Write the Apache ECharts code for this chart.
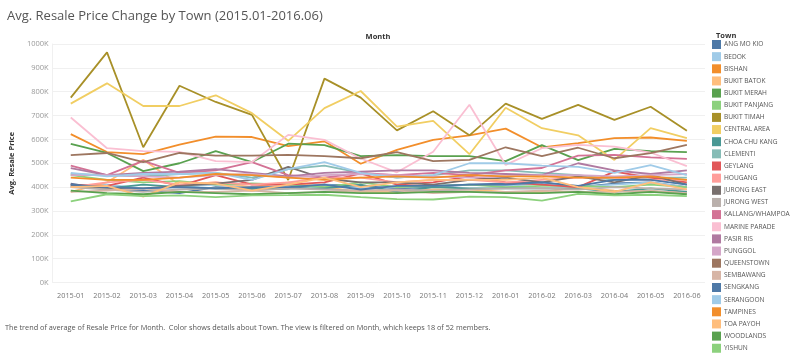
<!DOCTYPE html>
<html><head><meta charset="utf-8">
<script src="https://cdn.jsdelivr.net/npm/echarts@6/dist/echarts.min.js"></script>
<style>html,body{margin:0;padding:0;background:#fff}#c{width:800px;height:355px}</style>
</head><body><div id="c"></div>
<script>
const months = ['2015-01','2015-02','2015-03','2015-04','2015-05','2015-06','2015-07','2015-08','2015-09','2015-10','2015-11','2015-12','2016-01','2016-02','2016-03','2016-04','2016-05','2016-06'];
const yTicks = [0,100000,200000,300000,400000,500000,600000,700000,800000,900000,1000000];
const towns = ['ANG MO KIO','BEDOK','BISHAN','BUKIT BATOK','BUKIT MERAH','BUKIT PANJANG','BUKIT TIMAH','CENTRAL AREA','CHOA CHU KANG','CLEMENTI','GEYLANG','HOUGANG','JURONG EAST','JURONG WEST','KALLANG/WHAMPOA','MARINE PARADE','PASIR RIS','PUNGGOL','QUEENSTOWN','SEMBAWANG','SENGKANG','SERANGOON','TAMPINES','TOA PAYOH','WOODLANDS','YISHUN'];
const colors = ['#4e79a7','#a0cbe8','#f28e2b','#ffbe7d','#59a14f','#8cd17d','#a89028','#f1ce63','#499894','#86bcb6','#e15759','#ff9d9a','#79706e','#bab0ac','#d37295','#fabfd2','#b07aa1','#d4a6c8','#9d7660','#d7b5a6','#4e79a7','#a0cbe8','#f28e2b','#ffbe7d','#59a14f','#8cd17d'];

// values in K
const angMoKio      = [415,390,385,375,400,395,395,410,405,395,400,410,415,420,400,415,420,400];
const bedok         = [400,410,395,400,410,400,405,410,395,400,405,410,405,415,400,410,420,400];
const bishan        = [622,547,538,578,612,610,572,592,498,556,598,617,645,567,584,605,608,594];
const bukitBatok    = [380,420,515,410,420,400,420,400,380,380,390,390,380,380,400,385,380,380];
const bukitMerah    = [581,543,467,500,551,505,582,576,530,534,530,530,509,576,513,560,551,547];
const bukitPanjang  = [450,430,420,425,410,415,410,400,420,400,405,410,400,405,405,400,410,400];
const bukitTimah    = [775,965,567,825,757,703,430,855,775,638,718,617,750,686,745,682,737,636];
const centralArea   = [750,835,740,740,785,710,594,731,803,654,678,538,733,647,617,514,647,605];
const choaChuKang   = [405,395,410,400,395,390,395,395,410,380,400,395,395,395,395,380,395,380];
const clementi      = [455,450,445,455,460,440,475,490,460,440,450,470,470,460,450,430,440,440];
const geylang       = [410,405,440,405,450,410,410,420,458,410,420,445,420,410,400,465,440,420];
const hougang       = [400,420,430,410,420,410,420,440,440,420,430,430,420,430,440,440,430,430];
const jurongEast    = [410,395,395,405,415,430,485,435,420,420,410,430,440,420,445,420,450,410];
const jurongWest    = [400,390,380,390,395,385,395,390,385,390,385,390,395,395,390,400,395,390];
const kallang       = [490,450,510,460,470,505,450,440,460,450,460,450,470,480,532,535,525,518];
const marineParade  = [692,563,551,548,509,505,619,598,520,462,548,745,493,563,577,570,545,488];
const pasirRis      = [480,450,460,465,475,460,445,460,465,470,470,460,455,450,500,470,455,470];
const punggol       = [450,450,445,440,450,455,440,450,455,450,445,440,445,450,450,445,450,455];
const queenstown    = [534,543,505,543,532,532,535,530,521,547,509,514,567,530,565,521,542,577];
const sembawang     = [380,385,395,380,380,385,375,380,385,385,375,380,380,385,380,380,385,375];
const sengkang      = [410,400,395,400,395,400,400,410,390,405,405,410,410,420,405,430,430,410];
const serangoon     = [460,445,455,455,460,430,475,505,460,440,450,500,500,490,485,460,492,450];
const tampines      = [440,430,430,440,455,450,440,430,440,445,440,450,445,445,440,440,445,430];
const toaPayoh      = [400,405,360,420,415,385,410,440,400,420,430,430,430,440,400,380,420,390];
const woodlands     = [385,375,370,380,375,370,375,380,375,375,380,380,375,375,380,370,380,370];
const yishun        = [340,370,362,365,358,365,366,368,358,350,348,360,358,343,372,365,368,362];

const valueLists = [angMoKio,bedok,bishan,bukitBatok,bukitMerah,bukitPanjang,bukitTimah,centralArea,choaChuKang,clementi,geylang,hougang,jurongEast,jurongWest,kallang,marineParade,pasirRis,punggol,queenstown,sembawang,sengkang,serangoon,tampines,toaPayoh,woodlands,yishun];

const series = towns.map((t,i)=>({
  name:t, type:'line', data:valueLists[i].map(v=>v*1000),
  symbol:'none', smooth:false, lineStyle:{width:1.8,color:colors[i]}, itemStyle:{color:colors[i]},
  z: 2
}));

const chart = echarts.init(document.getElementById('c'));
chart.setOption({
  animation:false,
  backgroundColor:'#fff',
  textStyle:{fontFamily:'"Open Sans", sans-serif'},
  title:[
    {text:'Avg. Resale Price Change by Town (2015.01-2016.06)', left:2, top:5, textStyle:{fontSize:13, fontWeight:'normal', color:'#555', fontFamily:'"Open Sans", sans-serif'}},
    {text:'Month', left:373, top:28, textAlign:'center', textStyle:{fontSize:7.5, fontWeight:'bold', color:'#333'}},
    {text:'Town', left:711, top:27, textStyle:{fontSize:7.5, fontWeight:'bold', color:'#333'}},
    {text:'The trend of average of Resale Price for Month.  Color shows details about Town. The view is filtered on Month, which keeps 18 of 52 members.', left:0, top:319, textStyle:{fontSize:7.3, fontWeight:'normal', color:'#555'}}
  ],
  legend:{
    orient:'vertical', left:712, top:40, itemWidth:9, itemHeight:9, itemGap:3.15, icon:'rect',
    data:towns, textStyle:{fontSize:6.6, color:'#555', padding:[0,0,0,-2]}, padding:0
  },
  grid:{left:45, right:95, top:44, bottom:72.5, containLabel:false},
  xAxis:{
    type:'category', data:months, boundaryGap:true,
    axisLine:{show:false}, axisTick:{show:false},
    axisLabel:{fontSize:7.3, color:'#777', margin:10, interval:0}
  },
  yAxis:{
    type:'value', min:yTicks[0], max:yTicks[yTicks.length-1], interval:100000,
    name:'Avg. Resale Price', nameLocation:'middle', nameRotate:90, nameGap:34,
    nameTextStyle:{fontSize:7.5, color:'#333', fontWeight:'bold'},
    axisLine:{show:true, lineStyle:{color:'#f0f0f0'}}, axisTick:{show:false},
    splitLine:{lineStyle:{color:'#f0f0f0', width:1}},
    axisLabel:{fontSize:7.5, color:'#999', margin:4, formatter:v=>(v/1000)+'K'}
  },
  series:series
});
</script></body></html>
